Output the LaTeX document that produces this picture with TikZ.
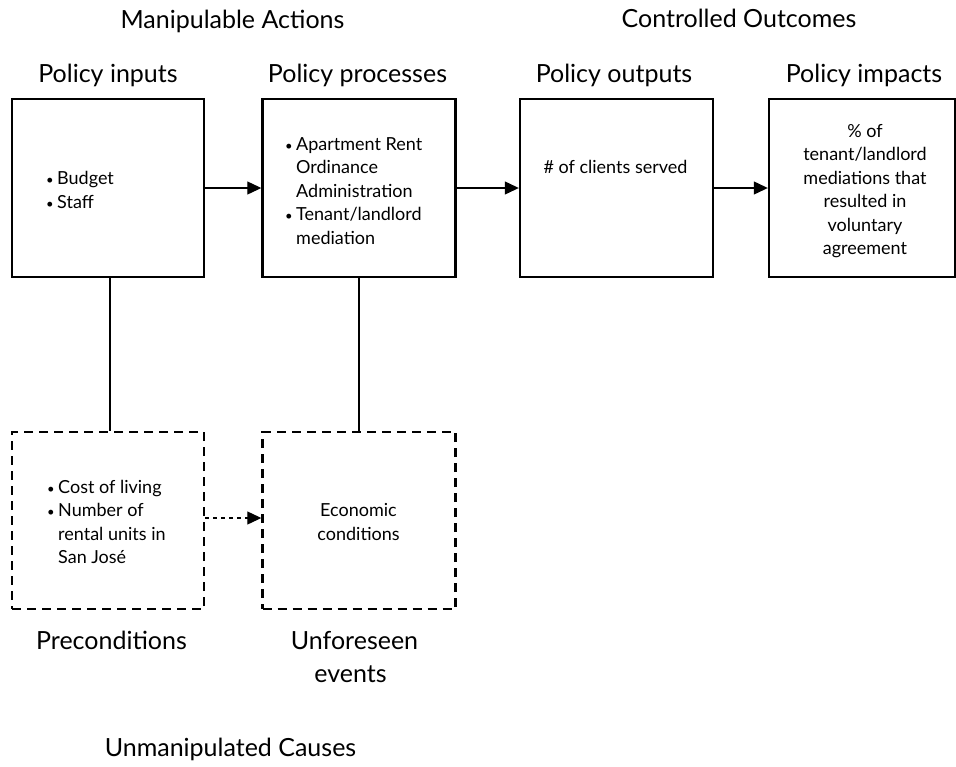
\documentclass[tikz,border=0pt]{standalone}
\usepackage{fontspec}
\setmainfont{Lato}
\usetikzlibrary{arrows.meta}
\newcommand\bodyfont{\fontsize{18}{23.5}\selectfont}
\newcommand\headfont{\fontsize{25}{33}\selectfont}
\newcommand\bl{\makebox[11pt][l]{{\fontsize{13}{13}\selectfont\textbullet}}}
\newcommand\ind{\hspace*{11pt}}
\tikzset{
  x=1pt, y=-1pt,
  solidbox/.style={draw, line width=2.4pt, rectangle, inner sep=0pt},
  dashbox/.style={draw, line width=2.4pt, rectangle, inner sep=0pt, dash pattern=on 9pt off 6pt},
  head/.style={font=\headfont, inner sep=0pt, anchor=base},
  body/.style={font=\bodyfont, inner sep=0pt, align=left},
  flow/.style={line width=1.2pt, -{Triangle[length=14pt,width=13pt]}},
  dflow/.style={line width=1.2pt, dash pattern=on 4pt off 4pt, -{Triangle[length=14pt,width=13pt]}},
  link/.style={line width=1.2pt},
}
\begin{document}
\begin{tikzpicture}
\useasboundingbox (0,0) rectangle (956,766);
% boxes
\node[solidbox, minimum width=192pt, minimum height=178pt] (b1) at (108,188) {};
\node[solidbox, minimum width=193pt, minimum height=178pt] (b2) at (359,188) {};
\node[solidbox, minimum width=193pt, minimum height=178pt] (b3) at (616.5,188) {};
\node[solidbox, minimum width=186pt, minimum height=178pt] (b4) at (862,188) {};
\node[dashbox, minimum width=192pt, minimum height=177pt] (b5) at (108,520.5) {};
\node[dashbox, minimum width=193pt, minimum height=177pt] (b6) at (359,520.5) {};
% headings
\node[head] (h1) at (232.5,28.5) {Manipulable Actions};
\node[head] (h2) at (739,27) {Controlled Outcomes};
\node[head] (p1) at (108,82) {Policy inputs};
\node[head] (p2) at (357.5,82) {Policy processes};
\node[head] (p3) at (614,82) {Policy outputs};
\node[head] (p4) at (864,82) {Policy impacts};
\node[head] (q1) at (111.5,649) {Preconditions};
\node[head] (q2) at (354.5,649) {Unforeseen};
\node[head] (q3) at (350.5,682) {events};
\node[head] (h3) at (230.5,756) {Unmanipulated Causes};
% box texts
\node[body, anchor=west] (t1) at (46,190) {\bl Budget\\\bl Staff};
\node[body, anchor=west] (t2) at (285,191) {\bl Apartment Rent\\\ind Ordinance\\\ind Administration\\\bl Tenant/landlord\\\ind mediation};
\node[body, anchor=center] (t3) at (615.5,167) {\# of clients served};
\node[body, anchor=center, align=center] (t4) at (865,191) {\% of\\tenant/landlord\\mediations that\\resulted in\\voluntary\\agreement};
\node[body, anchor=west] (t5) at (47,522) {\bl Cost of living\\\bl Number of\\\ind rental units in\\\ind San José};
\node[body, anchor=center, align=center] (t6) at (358.5,522) {Economic\\conditions};
% connectors
\draw[flow] (b1.east |- 0,188) -- (b2.west |- 0,188);
\draw[flow] (b2.east |- 0,188) -- (b3.west |- 0,188);
\draw[flow] (b3.east |- 0,188) -- (b4.west |- 0,188);
\draw[dflow] (b5.east |- 0,518) -- (b6.west |- 0,518);
\draw[link] ([xshift=2pt]b1.south) -- ([xshift=2pt]b5.north);
\draw[link] (b2.south) -- (b6.north);
\end{tikzpicture}
\end{document}
